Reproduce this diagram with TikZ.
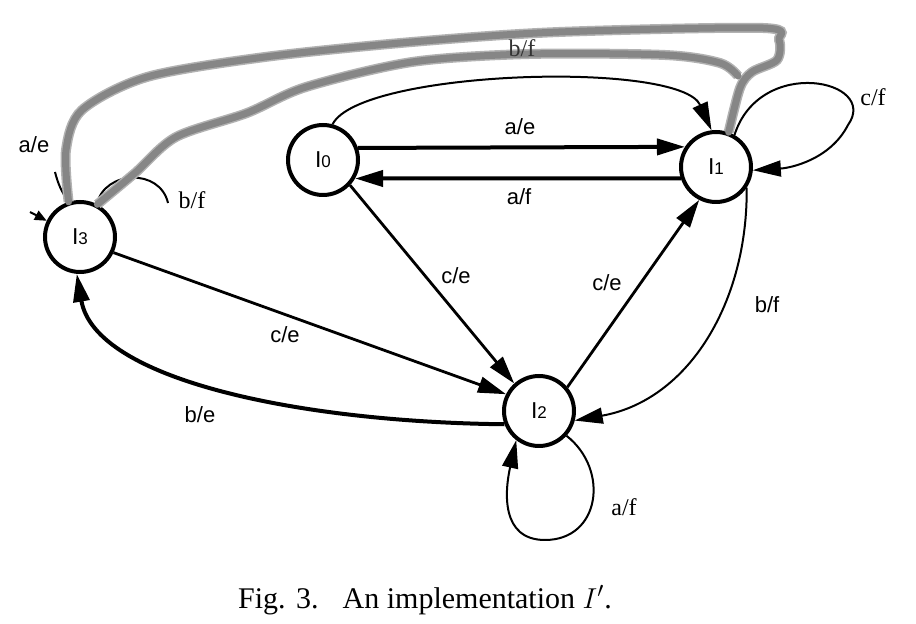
\documentclass[tikz,border=0pt]{standalone}
\usepackage{fontspec}
\setmainfont{Liberation Serif}
\setsansfont{Liberation Sans}
\usetikzlibrary{arrows.meta}
\tikzset{
    state node/.style = {
        draw, circle,
        line width=2pt,
        minimum size=35pt,
        inner sep=0pt,
        font=\sffamily\fontsize{11.5}{13}\selectfont,
        },
    heavy edge/.style = {
        line width=2pt,
        },
    mid edge/.style = {
        line width=1.4pt,
        },
    light edge/.style = {
        line width=1pt,
        },
    sans label/.style = {
        font=\sffamily\fontsize{11}{13}\selectfont,
        inner sep=0pt,
        },
    serif label/.style = {
        font=\fontsize{12}{14}\selectfont,
        inner sep=0pt,
        },
    band/.style = {
        draw=gray!95,
        line width=3.5pt,
        line cap=round,
        line join=round,
        preaction={draw=gray!60, line width=5pt},
        },
}
\newcommand{\stname}[1]{I{\fontsize{8.5}{10}\selectfont #1}}

\begin{document}
\begin{tikzpicture}[->, >={Triangle[length=14pt,width=8pt]}, x=0.5pt, y=-0.5pt]
            \useasboundingbox (0,0) rectangle (916,624);

            \node[state node] (I0) at (323,160) {\stname{0}};
            \node[state node] (I1) at (716,167) {\stname{1}};
            \node[state node] (I2) at (539,411) {\stname{2}};
            \node[state node] (I3) at (80,237) {\stname{3}};

            \path (I0.19) edge[heavy edge] (I1.147);
            \path (I1.198) edge[heavy edge] (I0.-30);
            \path (I0.-43) edge[mid edge] (I2.132);
            \path (I2.40) edge[mid edge] (I1.243);
            \path (I3.-25) edge[mid edge] (I2.153);

            \draw[light edge] (I0.75) .. controls (360,70) and (680,60) .. (I1.97);
            \draw[light edge] (I1.60) .. controls (760,55) and (880,80) .. (848,125)
                .. controls (830,160) and (790,168) .. (I1.-5);
            \draw[light edge] (I1.-34) .. controls (748,300) and (690,400) .. (I2.-15);
            \draw[heavy edge] (I2.201) .. controls (300,422) and (95,380) .. (I3.265);
            \draw[light edge] (I2.-42) .. controls (610,470) and (600,540) .. (545,540)
                .. controls (500,540) and (505,490) .. (I2.232);

            % what is left of the loops at I3
            \coordinate (ae end) at (55,172);
            \coordinate (ae start) at (30,212);
            \coordinate (bf end) at (168,203);
            \draw[light edge, -] (I3.108) to[bend left=10] (ae end);
            \draw[light edge, -{Triangle[length=6pt,width=5pt]}] (ae start) -- (I3.154);
            \draw[light edge, -] (I3.63) .. controls (105,170) and (160,168) .. (bf end);

            % gray band from I3 round the top to I1
            \draw[band, -] plot[smooth] coordinates {(I3.108) (66,150) (82,110) (147,77) (265,57)
                (412,42) (559,32) (763,28) (779,40) (777,60) (752,72) (740,88) (I1.70)};
            \draw[band, -] plot[smooth] coordinates {(I3.62) (135,173) (176,137) (247,113) (306,87)
                (412,62) (529,54) (665,55) (720,63) (738,76)};

            \node[serif label, text=black!80] (bf top) at (522,48) {b/f};
            \node[sans label] (ae top) at (520,127) {a/e};
            \node[sans label] (af mid) at (519,197) {a/f};
            \node[serif label] (cf loop) at (873,97) {c/f};
            \node[sans label] (bf right) at (767,305) {b/f};
            \node[sans label] (ce right) at (607,283) {c/e};
            \node[sans label] (ce left) at (456,276) {c/e};
            \node[sans label] (ce low) at (285,335) {c/e};
            \node[sans label] (be low) at (200,415) {b/e};
            \node[serif label] (af loop) at (624,507) {a/f};
            \node[sans label] (ae loop) at (34,145) {a/e};
            \node[serif label] (bf loop) at (192,200) {b/f};

            \node[font=\fontsize{15}{18}\selectfont] (caption) at (425,600)
                {Fig.\hspace{0.35em}3.\hspace{0.8em}An implementation $I'$.};
        \end{tikzpicture}
\end{document}
